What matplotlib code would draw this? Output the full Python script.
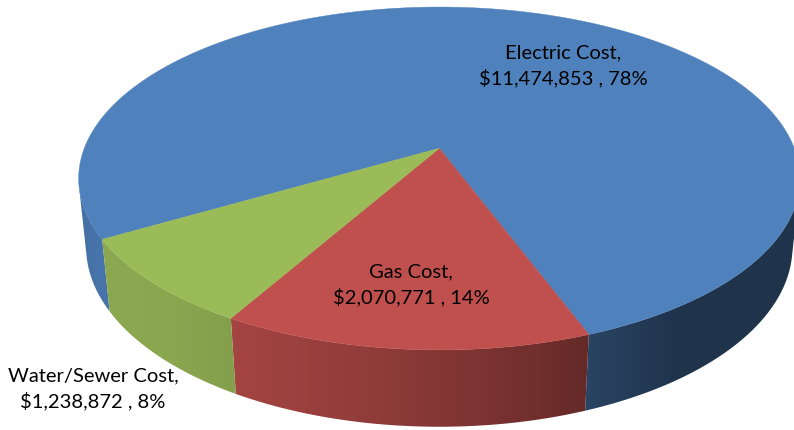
import numpy as np
import matplotlib
matplotlib.use("Agg")
import matplotlib.pyplot as plt
from matplotlib.patches import Polygon

# ---- data ----
categories = ["Electric Cost", "Gas Cost", "Water/Sewer Cost"]
costs = [11474853, 2070771, 1238872]
colors = ["#4F81BD", "#C0504D", "#9BBB59"]

# ---- view / layout ----
W, H = 794, 430
CX, CY = 439.3, 148.3          # projected pie centre (pixels)
SCALE = 355.0                  # pie radius in pixels at the centre depth
TILT = np.radians(27.9)        # camera elevation
DIST = 5.02                    # camera distance (in pie radii)
THICK = 0.22                   # pie thickness (in pie radii)
START = 240.0                  # first slice start, degrees clockwise from far side
LIGHT = 235.0                  # light direction for side shading
label_pos = {"Electric Cost": (563, 66), "Gas Cost": (411, 285),
             "Water/Sewer Cost": (93, 389)}

plt.rcParams["font.family"] = ["Lato", "DejaVu Sans"]

S_T, C_T = np.sin(TILT), np.cos(TILT)


def project(theta_deg, h, r=1.0):
    th = np.radians(theta_deg)
    u = r * np.sin(th)
    v = r * np.cos(th)
    yc = v * S_T + h * C_T
    zc = v * C_T - h * S_T
    k = SCALE * DIST / (DIST + zc)
    return CX + k * u, CY - k * yc


def shade_factor(theta_deg):
    return 0.40 + 0.50 * np.clip(np.cos(np.radians(theta_deg - LIGHT)), 0.0, None)


fig = plt.figure(figsize=(W / 100, H / 100), dpi=100)
ax = fig.add_axes([0, 0, 1, 1])
ax.set_xlim(0, W)
ax.set_ylim(H, 0)
ax.axis("off")

total = float(sum(costs))
fracs = [c / total for c in costs]
spans = [f * 360.0 for f in fracs]
starts = START + np.concatenate([[0.0], np.cumsum(spans)[:-1]])

# visible part of the side wall: cos(theta) below this faces the camera
vis_limit = -1.0 / (DIST * C_T)
vis_lo = np.degrees(np.arccos(vis_limit))          # ~103 deg
vis_hi = 360.0 - vis_lo                              # ~257 deg

# mapping screen column -> angle on the front wall (for smooth shading)
th_samples = np.linspace(vis_lo, vis_hi, 2000)
x_samples = np.array([project(t, -THICK / 2)[0] for t in th_samples])
order = np.argsort(x_samples)
xs_sorted, th_sorted = x_samples[order], th_samples[order]

# side wall, one shaded strip per slice
for a0, span, col in zip(starts, spans, colors):
    rgb = np.array(matplotlib.colors.to_rgb(col))
    segs = []
    for shift in (-360.0, 0.0, 360.0):
        s0 = max(a0 + shift, vis_lo)
        s1 = min(a0 + span + shift, vis_hi)
        if s1 > s0:
            segs.append((s0, s1))
    for s0, s1 in segs:
        th = np.linspace(s0, s1, max(4, int((s1 - s0) / 0.25)))
        top = [project(t, 0) for t in th]
        bot = [project(t, -THICK) for t in th[::-1]]
        poly = Polygon(top + bot, closed=True, facecolor="none",
                       edgecolor="none", zorder=1)
        ax.add_patch(poly)
        xs = np.array([p[0] for p in top + bot])
        ys = np.array([p[1] for p in top + bot])
        x0, x1 = xs.min() - 2, xs.max() + 2
        cols = np.linspace(x0, x1, max(8, int(x1 - x0) * 2))
        ang = np.interp(cols, xs_sorted, th_sorted)
        img = (rgb[None, :] * shade_factor(ang)[:, None]).clip(0, 1)[None, :, :]
        im = ax.imshow(img, extent=(x0, x1, ys.max() + 2, ys.min() - 2),
                       aspect="auto", interpolation="bilinear", zorder=1)
        im.set_clip_path(poly)

# top faces
for a0, span, col in zip(starts, spans, colors):
    n = max(4, int(np.ceil(span / 0.5)))
    th = np.linspace(a0, a0 + span, n + 1)
    pts = [project(0, 0, r=0.0)] + [project(t, 0) for t in th]
    ax.add_patch(Polygon(pts, closed=True, facecolor=col, edgecolor=col,
                         linewidth=0.3, zorder=2))

ax.set_xlim(0, W)
ax.set_ylim(H, 0)

# data labels
for name, val, frac in zip(categories, costs, fracs):
    x, y = label_pos[name]
    ax.text(x, y, f"{name},\n${val:,.0f} , {frac * 100:.0f}%",
            ha="center", va="center", fontsize=14.5, color="black",
            linespacing=1.45, zorder=3)

fig.savefig("out.png", dpi=100)
